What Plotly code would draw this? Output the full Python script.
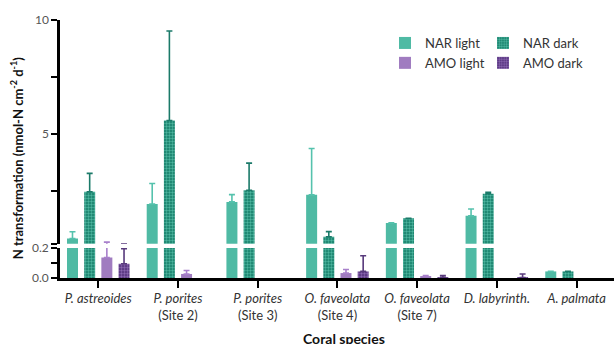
import plotly.graph_objects as go

categories = [
    "<i>P. astreoides</i>",
    "<i>P. porites</i><br>(Site 2)",
    "<i>P. porites</i><br>(Site 3)",
    "<i>O. faveolata</i><br>(Site 4)",
    "<i>O. faveolata</i><br>(Site 7)",
    "<i>D. labyrinth.</i>",
    "<i>A. palmata</i>",
]

nar_light = [0.43, 1.94, 2.03, 2.34, 1.11, 1.42, 0.044]
nar_light_err = [0.29, 0.90, 0.32, 2.03, 0, 0.30, 0]
nar_dark = [2.47, 5.6, 2.54, 0.50, 1.31, 2.39, 0.044]
nar_dark_err = [0.81, 3.92, 1.19, 0.23, 0, 0.06, 0]
amo_light = [0.137, 0.027, None, 0.033, 0.012, None, None]
amo_light_err = [0.13, 0.023, None, 0.024, 0.004, None, None]
amo_dark = [0.095, None, None, 0.044, 0.004, 0.003, None]
amo_dark_err = [0.10, None, None, 0.105, 0.013, 0.024, None]

series = [
    ("NAR light", nar_light, nar_light_err, "#4fbaa4", "#55c2ad", None, None),
    ("NAR dark", nar_dark, nar_dark_err, "#127a65", "#1b7a69", ".", "#4db59f"),
    ("AMO light", amo_light, amo_light_err, "#a07cc0", "#a880cb", None, None),
    ("AMO dark", amo_dark, amo_dark_err, "#4f2d78", "#583a7c", ".", "#8a67b0"),
]

FONT = "Lato"
fig = go.Figure()

legend_of = {"NAR light": "legend", "AMO light": "legend", "NAR dark": "legend2", "AMO dark": "legend2"}

for yax in ["y", "y2"]:
    for name, vals, errs, color, ecolor, pshape, pfg in series:
        marker = dict(color=color, line=dict(width=0))
        if pshape:
            marker["pattern"] = dict(shape=pshape, size=3, solidity=0.5,
                                     fgcolor=pfg, bgcolor=color, fillmode="replace")
        fig.add_trace(go.Bar(
            x=categories, y=vals, name=name, marker=marker,
            xaxis="x", yaxis=yax,
            showlegend=(yax == "y2"),
            legend=legend_of[name],
            legendgroup=name,
            error_y=dict(type="data", array=errs, arrayminus=[0] * len(errs),
                         symmetric=False, color=ecolor, thickness=1.6, width=3),
        ))

fig.update_layout(
    width=614, height=344,
    margin=dict(l=60, r=0, t=20, b=66, autoexpand=False),
    paper_bgcolor="white", plot_bgcolor="white",
    barmode="group", bargap=0.138, bargroupgap=0.36,
    font=dict(family=FONT, color="#333"),
    xaxis=dict(
        anchor="y", range=[-0.48, 6.47], showline=True, linecolor="black", linewidth=2.5,
        ticks="outside", ticklen=7, tickwidth=2, tickcolor="black", automargin=False,
        tickfont=dict(size=13, color="#333", family=FONT), showgrid=False, zeroline=False,
    ),
    yaxis=dict(
        domain=[0, 0.116], range=[0, 0.2], anchor="x", automargin=False,
        showline=True, linecolor="black", linewidth=2.5,
        ticks="outside", ticklen=6, tickwidth=2, tickcolor="black",
        tickvals=[0, 0.1, 0.2], ticktext=["0.0", "", "0.2"],
        tickfont=dict(size=12, color="#555", family=FONT), showgrid=False, zeroline=False,
    ),
    yaxis2=dict(
        domain=[0.133, 1], range=[0.2, 10], anchor="x", automargin=False,
        showline=True, linecolor="black", linewidth=2.5,
        ticks="outside", ticklen=6, tickwidth=2, tickcolor="black",
        tickvals=[0.2, 2.5, 5, 7.5, 10], ticktext=["", "", "5", "", "10"],
        tickfont=dict(size=12, color="#555", family=FONT), showgrid=False, zeroline=False,
    ),
    legend=dict(x=0.5866, y=0.969, xanchor="left", yanchor="top",
                font=dict(size=13, color="#333", family=FONT),
                bgcolor="rgba(0,0,0,0)", tracegroupgap=6, traceorder="normal"),
    legend2=dict(x=0.7635, y=0.969, xanchor="left", yanchor="top",
                 font=dict(size=13, color="#333", family=FONT),
                 bgcolor="rgba(0,0,0,0)", tracegroupgap=6, traceorder="normal"),
    annotations=[
        dict(text="<b>N transformation (nmol-N cm<sup>-2</sup> d<sup>-1</sup>)</b>",
             xref="paper", yref="paper", x=-0.079, y=0.465, textangle=-90,
             showarrow=False, font=dict(size=13, color="#111", family=FONT),
             xanchor="center", yanchor="middle"),
        dict(text="<b>Coral species</b>", xref="paper", yref="paper",
             x=(344 - 60) / 554, y=(278 - 338) / 258, showarrow=False,
             font=dict(size=14, color="#111", family=FONT),
             xanchor="center", yanchor="middle"),
    ],
)

fig.write_html(
    "out.html",
    config={"displayModeBar": False},
    post_script="document.body.style.margin='0';document.body.style.overflow='hidden';",
)
